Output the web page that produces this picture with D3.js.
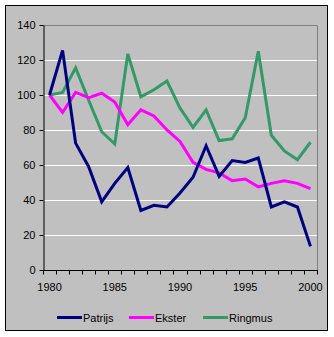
<!DOCTYPE html>
<html><head><meta charset="utf-8">
<script src="https://cdn.jsdelivr.net/npm/d3@7"></script>
<style>body{margin:0;background:#fff}svg{display:block}text{font-family:"Liberation Sans",Arial,sans-serif;font-size:11px;fill:#000}</style>
</head><body><svg id="c" width="334" height="337"></svg>
<script>
const years = d3.range(1980, 2001);
const patrijs = [100, 125.5, 72.5, 59, 39, 49.5, 58.5, 34, 37, 36, 44, 53, 71, 53.5, 62.5, 61.5, 64, 36, 39, 36, 13.5];
const ekster = [100, 90, 101.5, 98.5, 101, 96, 83, 91.5, 88, 80, 73.5, 61.5, 57.5, 55.5, 51, 52, 47.5, 49.5, 51, 49.5, 46.5];
const ringmus = [100, 101.5, 115.5, 97, 79, 72, 123.5, 99, 103, 108, 92.5, 81.5, 91.5, 74, 75, 87, 125, 77, 68, 63, 73];
const seriesNames = ["Patrijs", "Ekster", "Ringmus"];
const seriesColors = ["#000080", "#FF00FF", "#339966"];
const yTicks = [0, 20, 40, 60, 80, 100, 120, 140];
const xLabels = [1980, 1985, 1990, 1995, 2000];

const svg = d3.select("#c");
svg.append("rect").attr("x", 5.5).attr("y", 5.5).attr("width", 322).attr("height", 325)
  .attr("fill", "#C0C0C0").attr("stroke", "#000").attr("stroke-width", 1);

const L = 43, R = 317, T = 25, B = 270;
const x = d3.scaleBand().domain(years).range([L, R]);
const y = d3.scaleLinear().domain([0, 140]).range([B, T]);

// gridlines
svg.append("g").selectAll("line").data(yTicks.filter(d => d > 0 && d < 140)).join("line")
  .attr("x1", L).attr("x2", R).attr("y1", d => Math.round(y(d)) + 0.5).attr("y2", d => Math.round(y(d)) + 0.5)
  .attr("stroke", "#fff").attr("stroke-width", 1);
// plot border top/right
svg.append("path").attr("d", `M${L},${T + 0.5}H${R + 0.5}V${B}`).attr("fill", "none").attr("stroke", "#808080");

// y axis
const ya = svg.append("g").attr("transform", `translate(${L + 0.5},0)`)
  .call(d3.axisLeft(y).tickValues(yTicks).tickSize(4).tickPadding(4).tickSizeOuter(0));
ya.select(".domain").attr("stroke", "#000");
ya.selectAll(".tick line").attr("stroke", "#000");
ya.selectAll("text").style("font-size", "11px").attr("fill", "#000").attr("font-family", null);

// x axis
const xa = svg.append("g").attr("transform", `translate(0,${B + 0.5})`);
xa.append("line").attr("x1", L).attr("x2", R + 1).attr("stroke", "#000");
const bounds = years.map(d => x(d)).concat([R]);
xa.selectAll("line.t").data(bounds).join("line").attr("class", "t")
  .attr("x1", d => Math.round(d) + 0.5).attr("x2", d => Math.round(d) + 0.5).attr("y1", 0).attr("y2", 4).attr("stroke", "#000");
xa.selectAll("text").data(xLabels).join("text")
  .attr("x", d => x(d) + x.bandwidth() / 2).attr("y", 20).attr("text-anchor", "middle").text(d => d);

// lines
const data = [patrijs, ekster, ringmus];
const line = d3.line().x((d, i) => x(years[i]) + x.bandwidth() / 2).y(d => y(d));
const drawOrder = [2, 1, 0];
drawOrder.forEach(k => {
  svg.append("path").datum(data[k]).attr("d", line).attr("fill", "none")
    .attr("stroke", seriesColors[k]).attr("stroke-width", 3).attr("stroke-linejoin", "miter");
});

// legend
const legX = [57, 129, 203];
const lg = svg.append("g");
seriesNames.forEach((n, i) => {
  lg.append("line").attr("x1", legX[i]).attr("x2", legX[i] + 25).attr("y1", 317.5).attr("y2", 317.5)
    .attr("stroke", seriesColors[i]).attr("stroke-width", 3);
  lg.append("text").attr("x", legX[i] + 26).attr("y", 321.5).text(n);
});
</script></body></html>
